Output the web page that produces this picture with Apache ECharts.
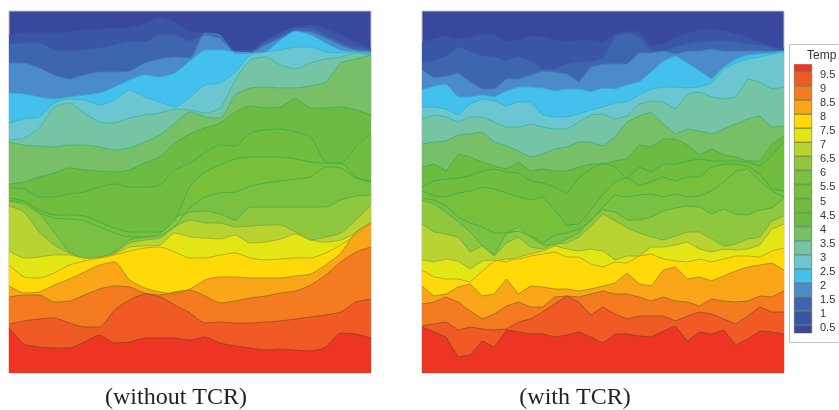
<!DOCTYPE html>
<html>
<head>
<meta charset="utf-8">
<script src="https://cdn.jsdelivr.net/npm/echarts@6/dist/echarts.min.js"></script>
<style>html,body{margin:0;padding:0;background:#fff}#main{width:839px;height:410px}</style>
</head>
<body>
<div id="main"></div>
<script>
// x positions of the samples in each panel
const leftX = [0,15,30,45,60,75,90,105,120,135,150,165,180,195,210,225,240,255,270,285,300,315,330,345,360];
const rightX = [0,12,24,36,48,60,72,84,96,108,120,132,144,156,168,180,192,204,216,228,240,252,264,276,288,300,312,324,336,348,360];

// contour depth from the top edge, left panel (without TCR), top band first
const L01 = [24,22,22,22,21,19,18,17,17,12,7,11,21,22,26,39,39,29,21,16,14,17,24,31,37];
const L02 = [34,32,32,39,40,39,37,34,31,31,24,24,30,24,27,41,41,31,24,17,17,24,31,36,39];
const L03 = [52,52,57,64,68,64,61,61,60,52,48,46,47,22,24,42,42,34,27,20,21,27,34,39,40];
const L04 = [82,83,86,88,86,84,82,76,69,64,66,62,50,39,39,41,42,41,29,20,24,32,39,41,42];
const L05 = [112,108,106,92,88,89,94,89,79,86,91,96,86,74,72,61,44,41,39,36,36,41,42,41,44];
const L06 = [129,127,117,96,92,102,111,112,107,104,102,98,99,102,97,69,49,46,54,58,52,48,46,42,44];
const L07 = [131,134,135,136,134,134,136,139,137,131,124,112,101,106,107,84,77,76,77,77,75,71,52,48,44];
const L08 = [173,171,166,162,157,159,160,161,159,152,146,132,123,117,112,101,95,97,96,88,97,97,96,99,104];
const L09 = [177,178,186,186,183,181,176,173,176,176,174,159,152,142,134,135,122,119,118,121,126,151,152,136,122];
const L10 = [187,190,199,204,204,205,211,217,221,221,221,209,175,161,154,148,146,146,146,148,151,152,152,166,172];
const L11 = [190,193,202,207,208,210,216,222,226,226,225,215,197,186,182,181,175,172,170,168,166,156,157,167,170];
const L12 = [190,191,202,221,241,247,246,241,229,226,223,207,201,200,203,209,196,196,196,196,196,196,189,185,184];
const L13 = [195,201,221,234,242,247,246,242,232,229,227,216,209,212,212,216,215,214,214,221,229,226,222,209,194];
const L14 = [240,247,246,244,244,247,247,243,236,235,234,222,226,227,228,224,232,231,228,223,229,231,229,222,210];
const L15 = [254,266,267,262,254,250,247,244,240,237,236,241,247,247,244,242,247,249,248,247,247,242,234,224,212];
const L16 = [275,282,281,274,268,261,254,251,269,277,281,283,278,269,266,266,267,267,267,265,263,254,242,221,212];
const L17 = [286,284,284,291,290,284,278,275,276,282,284,281,279,285,292,290,287,285,282,280,274,264,251,241,236];
const L18 = [313,310,308,307,312,316,316,299,289,283,286,294,302,312,311,312,312,311,310,308,306,304,301,291,288];
const L19 = [317,333,336,337,337,331,324,332,331,327,327,327,329,326,332,335,337,339,338,339,340,336,322,323,327];

// same for the right panel (with TCR)
const R01 = [31,28,25,28,26,23,23,31,29,25,26,29,31,29,29,31,23,20,21,35,33,26,23,18,18,20,23,26,31,35,38];
const R02 = [51,50,45,36,41,45,46,50,46,50,58,58,53,51,51,48,25,22,26,40,40,36,33,31,30,30,31,33,34,37,40];
const R03 = [59,67,65,62,71,78,78,68,68,64,60,61,63,71,56,53,53,53,42,42,40,43,40,40,38,40,40,40,40,40,40];
const R04 = [79,75,73,86,86,84,86,80,76,76,77,80,78,78,81,77,78,74,71,61,50,45,52,60,68,56,48,44,43,42,40];
const R05 = [96,96,98,104,93,88,90,95,91,91,104,106,106,103,99,96,92,91,84,78,76,76,77,76,72,58,52,48,46,43,41];
const R06 = [108,104,106,111,106,106,111,116,116,113,116,118,118,111,104,103,108,105,93,90,91,98,83,81,86,88,86,68,71,78,76];
const R07 = [133,131,130,124,123,121,131,135,140,146,143,138,136,131,131,135,126,111,105,101,113,123,118,120,123,118,113,108,105,116,115];
const R08 = [156,153,160,143,146,151,155,158,151,160,158,160,160,156,153,153,150,148,134,136,128,128,134,144,138,144,146,150,150,133,125];
const R09 = [176,170,168,167,165,160,158,161,162,170,172,176,183,167,158,152,156,168,156,161,153,153,150,148,150,150,150,151,155,145,130];
const R10 = [180,185,186,182,180,176,178,182,186,189,186,199,214,213,199,183,171,166,175,171,166,170,166,166,156,153,153,155,163,178,180];
const R11 = [187,189,195,206,212,216,222,222,220,225,232,224,222,218,210,196,184,186,184,183,186,183,186,185,180,171,160,158,170,180,186];
const R12 = [189,193,201,211,221,235,244,222,216,226,234,234,228,222,208,199,201,209,209,206,200,197,195,196,203,198,203,204,199,197,187];
const R13 = [213,221,223,226,241,235,245,232,226,236,238,233,232,226,215,203,210,217,222,226,229,225,221,221,228,235,233,228,226,210,205];
const R14 = [249,251,248,250,258,250,249,251,246,243,240,235,238,240,238,240,249,245,245,236,236,234,231,238,241,238,239,238,234,218,213];
const R15 = [259,266,268,268,271,260,250,248,248,245,243,241,246,246,253,256,251,252,245,243,248,250,251,248,251,248,245,245,246,240,237];
const R16 = [275,285,283,276,273,285,283,268,283,275,276,278,278,280,278,275,272,262,273,275,259,256,268,266,270,265,260,256,254,252,259];
const R17 = [293,291,286,291,300,308,303,295,291,296,296,286,285,286,283,280,283,283,286,290,286,290,291,295,288,290,291,290,285,286,280];
const R18 = [315,313,311,319,316,318,319,318,311,308,301,293,285,291,304,296,303,308,305,305,305,310,305,301,303,308,313,305,296,301,301];
const R19 = [316,321,326,346,344,330,336,319,321,323,323,326,324,321,326,332,323,323,325,326,320,315,330,321,323,319,334,328,320,321,323];

const leftLines = [L01,L02,L03,L04,L05,L06,L07,L08,L09,L10,L11,L12,L13,L14,L15,L16,L17,L18,L19];
const rightLines = [R01,R02,R03,R04,R05,R06,R07,R08,R09,R10,R11,R12,R13,R14,R15,R16,R17,R18,R19];

// band colours, coldest first
const bandColors = ['#38489e','#3a55a5','#3e66af','#4c8bc9','#44c0ee','#6cc6d2','#74c4a5','#77c067','#6cbb42','#71bd3f','#78bf3c','#7ac143','#8fc73e','#b7d433','#e3e615','#ffd908','#fba519','#f47b20','#f15a24','#ee3524'];
const lineColors = ['#3a52a3','#3c60ab','#4379bc','#3fa9d8','#33b5c4','#3eb7a0','#45b272','#45ae4a','#3fae4a','#3fae4a','#3fae4a','#4fae40','#7ea83a','#a3a92c','#b3a41a','#a98a1c','#9a6f28','#96522a','#8f4428'];

// legend
const legendLabels = [0.5,1,1.5,2,2.5,3,3.5,4,4.5,5,5.5,6,6.5,7,7.5,8,8.5,9,9.5];
const legendCells = [0.5,0.5,0.5,0.5,0.5,0.5,0.5,0.5,0.5,0.5,0.5,0.5,0.5,0.5,0.5,0.5,0.5,0.5,0.5,0.5];

function contourSeries(lines, xs, axisIdx, smooth) {
  return lines.map(function (arr, i) {
    return {
      type: 'line',
      xAxisIndex: axisIdx,
      yAxisIndex: axisIdx,
      data: xs.map(function (x, k) { return [x, arr[k]]; }),
      symbol: 'none',
      smooth: smooth,
      silent: true,
      lineStyle: { color: lineColors[i], width: 0.9 },
      areaStyle: { color: bandColors[i + 1], opacity: 1, origin: 'end' }
    };
  });
}

const legendSeries = legendCells.map(function (v, i) {
  return {
    type: 'bar',
    stack: 'temp',
    xAxisIndex: 2,
    yAxisIndex: 2,
    data: [v],
    barWidth: 18,
    silent: true,
    itemStyle: { color: bandColors[i], borderColor: '#4d5a3a', borderWidth: 0.5 }
  };
});

const panelGrid = { show: true, backgroundColor: bandColors[0], borderColor: '#cdbdb4', borderWidth: 1, top: 11, height: 362, width: 362 };
const hidden = { show: false };

const chart = echarts.init(document.getElementById('main'), null, { renderer: 'canvas' });
chart.setOption({
  animation: false,
  backgroundColor: '#fff',
  title: [
    { text: '(without TCR)', left: 171, top: 381, textAlign: 'center', textStyle: { fontFamily: 'Liberation Serif', fontSize: 24, fontWeight: 'normal', color: '#231f20' } },
    { text: '(with TCR)', left: 570, top: 381, textAlign: 'center', textStyle: { fontFamily: 'Liberation Serif', fontSize: 24, fontWeight: 'normal', color: '#231f20' } },
    { text: 'Temp', left: 802, top: 45, textStyle: { fontFamily: 'Liberation Sans', fontSize: 12, fontWeight: 'normal', color: '#333' } }
  ],
  graphic: [
    { type: 'rect', z: -1, shape: { x: 789.5, y: 44.5, width: 60, height: 298 }, style: { fill: '#fff', stroke: '#b4c4cc', lineWidth: 1 } }
  ],
  grid: [
    Object.assign({}, panelGrid, { left: 9 }),
    Object.assign({}, panelGrid, { left: 422 }),
    { left: 794, width: 18, top: 64.5, height: 268.5 }
  ],
  xAxis: [
    { type: 'value', gridIndex: 0, min: 0, max: 360, axisLine: hidden, axisTick: hidden, axisLabel: hidden, splitLine: hidden },
    { type: 'value', gridIndex: 1, min: 0, max: 360, axisLine: hidden, axisTick: hidden, axisLabel: hidden, splitLine: hidden },
    { type: 'category', gridIndex: 2, data: ['Temp'], axisLine: hidden, axisTick: hidden, axisLabel: hidden, splitLine: hidden }
  ],
  yAxis: [
    { type: 'value', gridIndex: 0, inverse: true, min: 0, max: 362, axisLine: hidden, axisTick: hidden, axisLabel: hidden, splitLine: hidden },
    { type: 'value', gridIndex: 1, inverse: true, min: 0, max: 362, axisLine: hidden, axisTick: hidden, axisLabel: hidden, splitLine: hidden },
    {
      type: 'value', gridIndex: 2, min: 0.215, max: 9.767,
      axisLine: hidden, axisTick: hidden, splitLine: hidden,
      axisLabel: {
        customValues: legendLabels,
        margin: 8,
        verticalAlign: 'top',
        lineHeight: 6,
        fontFamily: 'Liberation Sans',
        fontSize: 11,
        color: '#333',
        align: 'left',
        showMinLabel: true,
        showMaxLabel: true,
        formatter: function (v) { return String(v); }
      },
      position: 'right'
    }
  ],
  series: contourSeries(leftLines, leftX, 0, 0.2)
    .concat(contourSeries(rightLines, rightX, 1, false))
    .concat(legendSeries)
});
</script>
</body>
</html>
